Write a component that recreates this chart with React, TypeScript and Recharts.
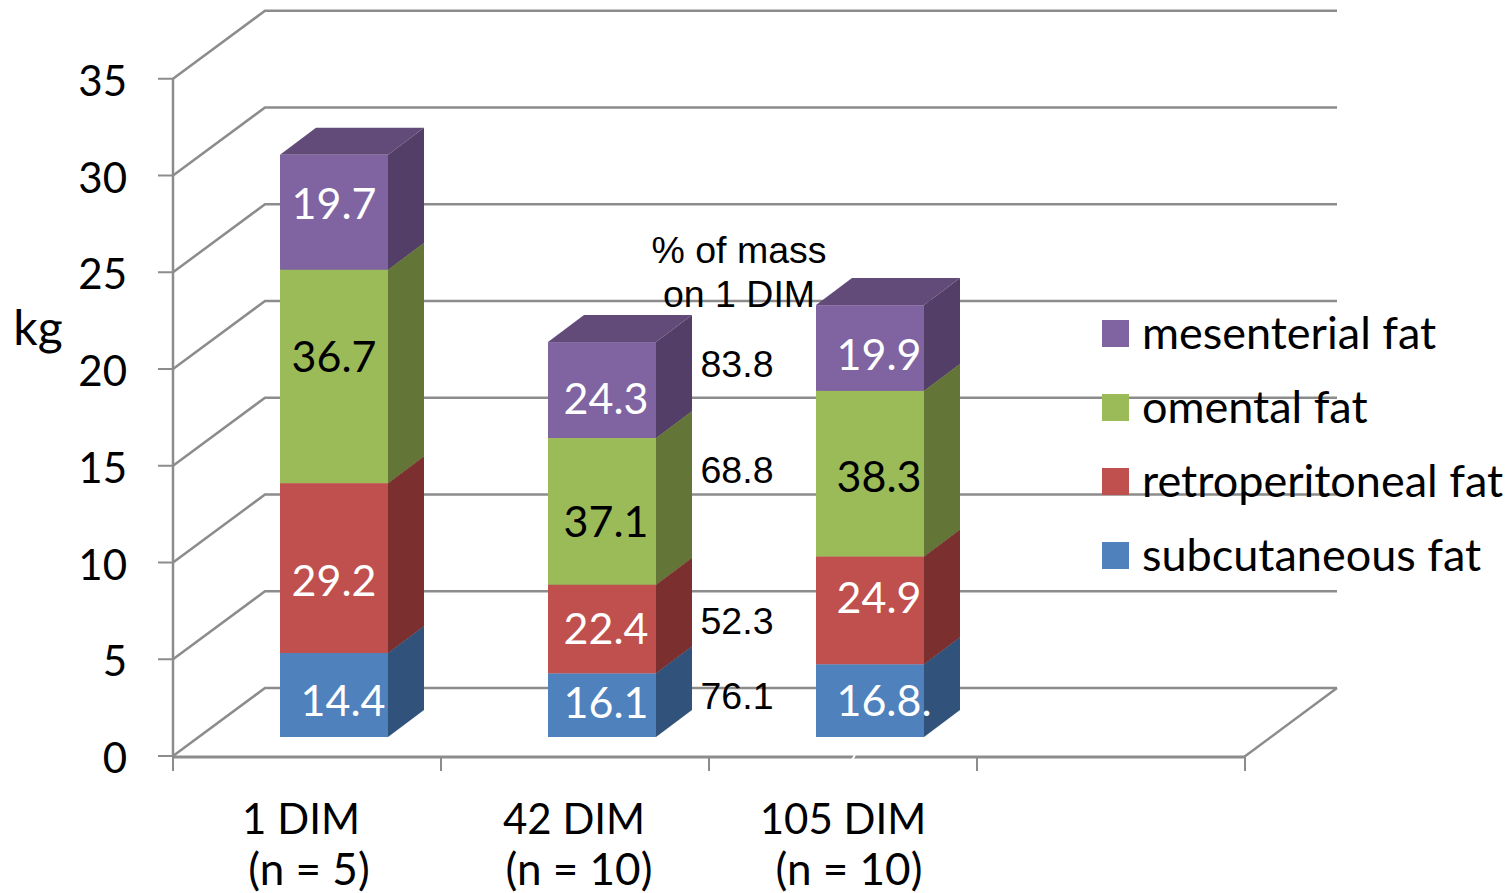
import {
  Bar,
  BarChart,
  CartesianGrid,
  LabelList,
  Legend,
  XAxis,
  YAxis,
} from "recharts";

const categories = ["1 DIM", "42 DIM", "105 DIM", ""];
const groupSizes = ["(n = 5)", "(n = 10)", "(n = 10)", ""];
const yTicks = [0, 5, 10, 15, 20, 25, 30, 35];

// fat mass per depot, kg
const subcutaneous = [4.34, 3.29, 3.76];
const retroperitoneal = [8.78, 4.58, 5.57];
const omental = [11.03, 7.58, 8.56];
const mesenterial = [5.94, 4.96, 4.43];

// share of each time point's total, %
const subcutaneousShare = ["14.4", "16.1", "16.8."];
const retroperitonealShare = ["29.2", "22.4", "24.9"];
const omentalShare = ["36.7", "37.1", "38.3"];
const mesenterialShare = ["19.7", "24.3", "19.9"];

// depot mass at 42 DIM relative to 1 DIM, %
const massOnDayOne = { sub: "76.1", retro: "52.3", om: "68.8", mes: "83.8" };

const rows = categories.map((name, i) => ({
  name,
  sub: subcutaneous[i],
  retro: retroperitoneal[i],
  om: omental[i],
  mes: mesenterial[i],
}));

const CALIBRI = "Lato, Carlito, sans-serif";
const ARIAL = "'Liberation Sans', Arial, sans-serif";
const GRID = "#8c8c8c";

// fake 3D: floor front edge sits below the bar plane, back wall above it
const FRONT_X = 173;
const WALL_X = 265;
const WALL_END = 1337;
const FRONT_DY = 19;
const WALL_DY = -49;
const BAND = 268;
const BAR_SHIFT = 27;
const DEPTH_X = 36;
const DEPTH_Y = 27;

function makeBox(side: string, top: string) {
  return function Box(props: any) {
    const { x, y, width, height, fill } = props;
    if (!height) return null; // the empty fourth category
    const r = x + width;
    return (
      <g>
        <polygon
          points={`${x},${y} ${x + DEPTH_X},${y - DEPTH_Y} ${r + DEPTH_X},${y - DEPTH_Y} ${r},${y}`}
          fill={top}
        />
        <polygon
          points={`${r},${y} ${r + DEPTH_X},${y - DEPTH_Y} ${r + DEPTH_X},${y + height - DEPTH_Y} ${r},${y + height}`}
          fill={side}
        />
        <rect x={x} y={y} width={width} height={height} fill={fill} />
      </g>
    );
  };
}

// wall line plus the slanted run down to the axis
function wallLine(props: any) {
  const y = props.y1;
  const front = y + FRONT_DY;
  const wall = y + WALL_DY;
  return (
    <polyline
      key={props.key ?? y}
      points={`${FRONT_X},${front} ${WALL_X},${wall} ${WALL_END},${wall}`}
      fill="none"
      stroke={GRID}
      strokeWidth={2.5}
    />
  );
}

function YTick(props: any) {
  const front = props.y + FRONT_DY;
  const last = props.payload.value === yTicks[yTicks.length - 1];
  return (
    <g>
      <line x1={FRONT_X - 15} x2={FRONT_X} y1={front} y2={front} stroke={GRID} strokeWidth={2} />
      {!last && (
        <line x1={FRONT_X} x2={FRONT_X} y1={front} y2={front - 96.75} stroke={GRID} strokeWidth={2.5} />
      )}
      <text x={127} y={front + 17} textAnchor="end" fontFamily={CALIBRI} fontSize={42} fill="#000">
        {props.payload.value}
      </text>
    </g>
  );
}

const line1Shift = [-33, -28, -27, 0];
const line2Shift = [-25, -23, -21, 0];

function XTick(props: any) {
  const { x, index } = props;
  const left = x - BAR_SHIFT - BAND / 2;
  const right = left + BAND;
  return (
    <g>
      <line x1={left} x2={right} y1={757} y2={757} stroke={GRID} strokeWidth={3} />
      <line x1={left} x2={left} y1={757} y2={771} stroke={GRID} strokeWidth={2} />
      <line x1={right} x2={right} y1={757} y2={771} stroke={GRID} strokeWidth={2} />
      <text x={x + line1Shift[index]} y={834} textAnchor="middle" fontFamily={CALIBRI} fontSize={42} fill="#000">
        {categories[index]}
      </text>
      <text x={x + line2Shift[index]} y={885} textAnchor="middle" fontFamily={CALIBRI} fontSize={44} fill="#000">
        {groupSizes[index]}
      </text>
    </g>
  );
}

// hand-placed data labels, offset from the middle of each segment
function shareLabel(
  labels: string[],
  color: string,
  dx: number[],
  dy: number[],
) {
  return function ShareLabel(props: any) {
    const box = props.viewBox ?? props;
    const i = props.index;
    if (labels[i] === undefined) return null;
    return (
      <text
        x={box.x + box.width / 2 + dx[i]}
        y={box.y + box.height / 2 + dy[i] + 15}
        textAnchor="middle"
        fontFamily={CALIBRI}
        fontSize={43}
        fill={color}
      >
        {labels[i]}
      </text>
    );
  };
}

// percentage column to the right of the 42 DIM bar
function massLabel(label: string, dy: number) {
  return function MassLabel(props: any) {
    const box = props.viewBox ?? props;
    if (props.index !== 1) return null;
    return (
      <text
        x={box.x + box.width + 81}
        y={box.y + box.height / 2 + dy + 12}
        textAnchor="middle"
        fontFamily={ARIAL}
        fontSize={37.5}
        fill="#000"
      >
        {label}
      </text>
    );
  };
}

function LegendBox(props: any) {
  const items = props.payload ?? [];
  return (
    <div style={{ fontFamily: CALIBRI, fontSize: 45, color: "#000" }}>
      {items.map((it: any) => (
        <div key={it.value} style={{ position: "relative", height: 74, whiteSpace: "nowrap" }}>
          <span
            style={{ position: "absolute", left: 0, top: 0, width: 27, height: 27, background: it.color }}
          />
          <span style={{ position: "absolute", left: 40, top: -13, lineHeight: "50px" }}>{it.value}</span>
        </div>
      ))}
    </div>
  );
}

export default function App() {
  return (
    <div style={{ position: "absolute", left: 0, top: 0, width: 1511, height: 893, overflow: "hidden", background: "#fff" }}>
      <BarChart
        width={1511}
        height={893}
        data={rows}
        margin={{ top: 59.75, right: 239, bottom: 155, left: 199 }}
        barSize={108}
      >
        <CartesianGrid horizontal={wallLine} vertical={false} />
        <XAxis
          dataKey="name"
          height={1}
          axisLine={false}
          tickLine={false}
          interval={0}
          tick={XTick}
        />
        <YAxis
          width={1}
          domain={[0, 35]}
          ticks={yTicks}
          axisLine={false}
          tickLine={false}
          tick={YTick}
        />
        <Legend
          layout="horizontal"
          verticalAlign="middle"
          content={LegendBox}
          wrapperStyle={{ position: "absolute", left: 1102, top: 320, width: 409, height: 300 }}
        />
        <Bar dataKey="sub" name="subcutaneous fat" stackId="fat" fill="#4f81bd" isAnimationActive={false} shape={makeBox("#31527a", "#31527a")}>
          <LabelList dataKey="sub" content={shareLabel(subcutaneousShare, "#fff", [9, 4, 14], [6, -2, 0])} />
          <LabelList dataKey="sub" content={massLabel(massOnDayOne.sub, -8)} />
        </Bar>
        <Bar dataKey="retro" name="retroperitoneal fat" stackId="fat" fill="#c0504d" isAnimationActive={false} shape={makeBox("#7b302f", "#7b302f")}>
          <LabelList dataKey="retro" content={shareLabel(retroperitonealShare, "#fff", [0, 4, 9], [13, 0, -12])} />
          <LabelList dataKey="retro" content={massLabel(massOnDayOne.retro, -7)} />
        </Bar>
        <Bar dataKey="om" name="omental fat" stackId="fat" fill="#9bbb59" isAnimationActive={false} shape={makeBox("#637537", "#637537")}>
          <LabelList dataKey="om" content={shareLabel(omentalShare, "#000", [0, 4, 9], [-19, 11, 3])} />
          <LabelList dataKey="om" content={massLabel(massOnDayOne.om, -40)} />
        </Bar>
        <Bar dataKey="mes" name="mesenterial fat" stackId="fat" fill="#8064a2" isAnimationActive={false} shape={makeBox("#523e66", "#634b79")}>
          <LabelList dataKey="mes" content={shareLabel(mesenterialShare, "#fff", [0, 4, 9], [-8, 9, 7])} />
          <LabelList dataKey="mes" content={massLabel(massOnDayOne.mes, -25)} />
        </Bar>
      </BarChart>
      <svg width={1511} height={893} style={{ position: "absolute", left: 0, top: 0, pointerEvents: "none" }}>
        <text x={38} y={345} textAnchor="middle" fontFamily={CALIBRI} fontSize={48} fill="#000">kg</text>
        <text x={739} y={263} textAnchor="middle" fontFamily={ARIAL} fontSize={37.5} fill="#000">% of mass</text>
        <text x={739} y={307} textAnchor="middle" fontFamily={ARIAL} fontSize={37.5} fill="#000">on 1 DIM</text>
        {/* right edge of the floor */}
        <line x1={1244} y1={757} x2={1337} y2={688} stroke={GRID} strokeWidth={2.5} />
        <line x1={852} y1={760} x2={855} y2={755} stroke="#fff" strokeWidth={2} />
      </svg>
    </div>
  );
}
